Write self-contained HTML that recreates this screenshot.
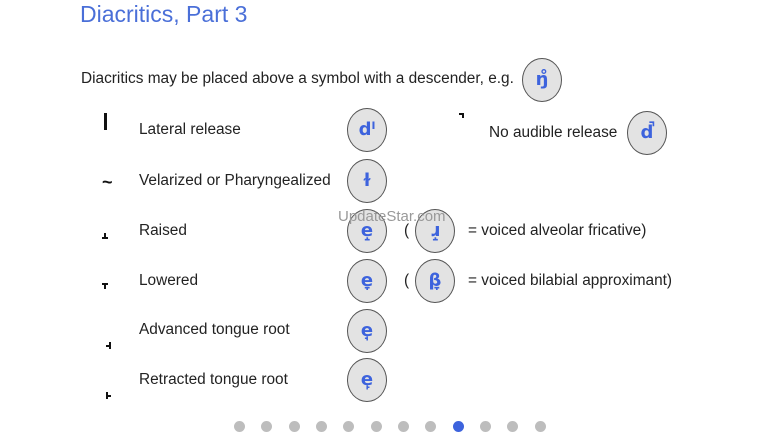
<!DOCTYPE html>
<html><head><style>
body{margin:0;width:780px;height:439px;background:#fff;position:relative;overflow:hidden;font-family:"Liberation Sans","DejaVu Sans",sans-serif;color:#222}
.a{position:absolute;white-space:nowrap}
.t{font-size:15.4px;color:#222}
.c{position:absolute;width:38px;height:42px;border:1.5px solid #555;border-radius:50%;background:#e3e3e3;color:#3d63dd;font-size:18px;font-weight:bold;text-align:center;line-height:42px;font-family:"DejaVu Sans",sans-serif}
.d{position:absolute;top:421px;width:11px;height:11px;border-radius:50%;background:#bdbdbd}
.k{position:absolute;background:#111}
</style></head><body>
<div class="a" style="left:80px;top:1px;font-size:23px;color:#4a6fd8">Diacritics, Part 3</div>
<div class="a t" style="left:81px;top:70px">Diacritics may be placed above a symbol with a descender, e.g.</div>
<div class="c" style="left:522px;top:58px">ŋ̊</div>

<div class="k" style="left:104px;top:113px;width:3px;height:17px"></div>
<div class="a" style="left:102px;top:172px;font-size:18px;font-weight:bold;color:#111">~</div>
<!-- raised -->
<div class="k" style="left:104px;top:233px;width:2px;height:5px"></div><div class="k" style="left:102px;top:237px;width:6px;height:2px"></div>
<!-- lowered -->
<div class="k" style="left:102px;top:283px;width:6px;height:2px"></div><div class="k" style="left:104px;top:283px;width:2px;height:6px"></div>
<!-- advanced -->
<div class="k" style="left:109px;top:342px;width:2px;height:7px"></div><div class="k" style="left:106px;top:345px;width:4px;height:2px"></div>
<!-- retracted -->
<div class="k" style="left:106px;top:392px;width:2px;height:7px"></div><div class="k" style="left:107px;top:395px;width:4px;height:2px"></div>
<!-- no audible -->
<div class="k" style="left:459px;top:113px;width:5px;height:2px"></div><div class="k" style="left:462px;top:113px;width:2px;height:5px"></div>

<div class="a t" style="left:139px;top:121px">Lateral release</div>
<div class="a t" style="left:139px;top:172px">Velarized or Pharyngealized</div>
<div class="a t" style="left:139px;top:222px">Raised</div>
<div class="a t" style="left:139px;top:272px">Lowered</div>
<div class="a t" style="left:139px;top:321px">Advanced tongue root</div>
<div class="a t" style="left:139px;top:371px">Retracted tongue root</div>
<div class="a t" style="left:489px;top:124px">No audible release</div>

<div class="c" style="left:347px;top:108px">dˡ</div>
<div class="c" style="left:347px;top:159px">ɫ</div>
<div class="c" style="left:347px;top:209px">e̝</div>
<div class="c" style="left:347px;top:259px">e̞</div>
<div class="c" style="left:347px;top:309px">e̘</div>
<div class="c" style="left:347px;top:358px">e̙</div>
<div class="c" style="left:627px;top:111px">d̚</div>

<div class="a t" style="left:404px;top:222px">(</div>
<div class="c" style="left:415px;top:209px">ɹ̝</div>
<div class="a t" style="left:468px;top:222px">= voiced alveolar fricative)</div>
<div class="a t" style="left:404px;top:272px">(</div>
<div class="c" style="left:415px;top:259px">β̞</div>
<div class="a t" style="left:468px;top:272px">= voiced bilabial approximant)</div>

<div class="a" style="left:338px;top:208px;font-size:15px;color:#999">UpdateStar.com</div>

<div class="d" style="left:234px"></div><div class="d" style="left:261px"></div><div class="d" style="left:289px"></div><div class="d" style="left:316px"></div><div class="d" style="left:343px"></div><div class="d" style="left:371px"></div><div class="d" style="left:398px"></div><div class="d" style="left:425px"></div><div class="d" style="left:453px;background:#3d63dd"></div><div class="d" style="left:480px"></div><div class="d" style="left:507px"></div><div class="d" style="left:535px"></div>
</body></html>
